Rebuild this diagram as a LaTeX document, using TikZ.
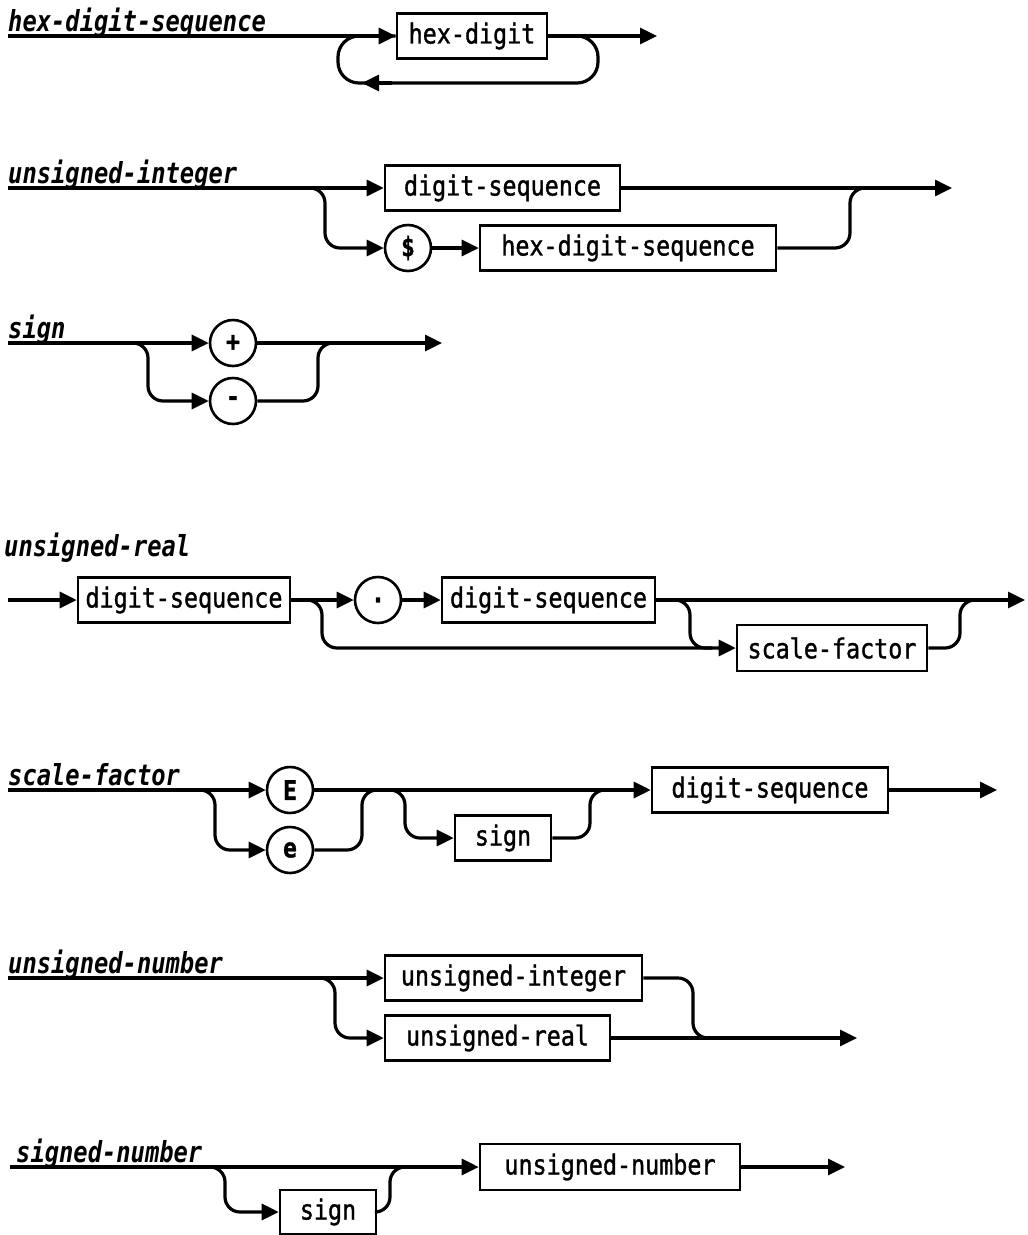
\documentclass[tikz,border=0pt]{standalone}
\usepackage{fontspec}
\setmainfont{DejaVu Sans Mono}
\newfontfamily\labfont[FakeStretch=0.85,FakeBold=1.2]{DejaVu Sans Mono}
\newfontfamily\titfont[FakeStretch=0.82]{DejaVu Sans Mono}
\usetikzlibrary{arrows.meta}
\tikzset{
  conn/.style={line width=3.2pt, rounded corners=15pt},
  tip/.style={-{Triangle[length=17pt,width=16pt]}},
  synbox/.style={draw, line width=2.6pt, rectangle, minimum height=45pt, inner sep=0pt, font=\labfont\fontsize{27.5}{27.5}\selectfont},
  term/.style={draw, line width=2.6pt, circle, minimum size=46pt, inner sep=0pt, font=\labfont\bfseries\fontsize{27}{27}\selectfont},
  title/.style={anchor=base west, inner sep=0pt, font=\titfont\bfseries\itshape\fontsize{29}{29}\selectfont}
}
\begin{document}
\begin{tikzpicture}[x=1pt,y=-1pt]
\useasboundingbox (0,0) rectangle (1028,1235);

% ---------- hex-digit-sequence ----------
\node[title] (t1) at (8,31) {hex-digit-sequence};
\coordinate (s1) at (8,36);
\coordinate (e1) at (657,36);
\node[synbox, minimum width=150pt] (hexd) at (472,36) {hex-digit};
\draw[conn,tip] (s1) -- (hexd.west);
\draw[conn,tip] (hexd.east) -- (e1);
\draw[conn,rounded corners=21pt] (hexd.east) -| (598,83) -| (338,36) -- (hexd.west);
\coordinate (l1) at (392,83);
\coordinate (l2) at (362,83);
\draw[conn,tip] (l1) -- (l2);

% ---------- unsigned-integer ----------
\node[title] (t2) at (8,183) {unsigned-integer};
\coordinate (s2) at (8,188);
\coordinate (e2) at (952,188);
\node[synbox, minimum width=235pt] (ds1) at (502.5,188) {digit-sequence};
\node[term] (dollar) at (408,248) {\$};
\node[synbox, minimum width=296pt] (hds) at (628,248) {hex-digit-sequence};
\draw[conn,tip] (s2) -- (ds1.west);
\draw[conn,tip] (ds1.east) -- (e2);
\draw[conn,tip] (300,188) -- (325,188) -- (325,248) -- (dollar.west);
\draw[conn,tip] (dollar.east) -- (hds.west);
\draw[conn] (hds.east) -- (850,248) -- (850,188) -- (875,188);

% ---------- sign ----------
\node[title] (t3) at (8,338) {sign};
\coordinate (s3) at (8,343);
\coordinate (e3) at (442,343);
\node[term] (plus) at (233,343) {+};
\node[term] (minus) at (233,401) {-};
\draw[conn,tip] (s3) -- (plus.west);
\draw[conn,tip] (plus.east) -- (e3);
\draw[conn,tip] (128,343) -- (148,343) -- (148,401) -- (minus.west);
\draw[conn] (minus.east) -- (318,401) -- (318,343) -- (338,343);

% ---------- unsigned-real ----------
\node[anchor=base west, inner sep=0pt, font=\titfont\bfseries\itshape\fontsize{29}{29}\selectfont] (t4) at (4,556) {unsigned-real};
\coordinate (s4) at (8,600);
\coordinate (e4) at (1025,600);
\node[synbox, minimum width=212pt] (ds2a) at (184,600) {digit-sequence};
\node[term] (dot) at (378,600) {.};
\node[synbox, minimum width=213pt] (ds2b) at (548.5,600) {digit-sequence};
\node[synbox, minimum width=190pt, minimum height=46pt] (sf) at (832,648) {scale-factor};
\draw[conn,tip] (s4) -- (ds2a.west);
\draw[conn,tip] (ds2a.east) -- (dot.west);
\draw[conn,tip] (dot.east) -- (ds2b.west);
\draw[conn,tip] (ds2b.east) -- (e4);
\draw[conn,tip] (ds2a.east) -- (322,600) -- (322,648) -- (sf.west);
\draw[conn] (ds2b.east) -- (690,600) -- (690,648) -- (712,648);
\draw[conn] (sf.east) -- (960,648) -- (960,600) -- (982,600);

% ---------- scale-factor ----------
\node[title] (t5) at (8,785) {scale-factor};
\coordinate (s5) at (8,790);
\coordinate (e5) at (997,790);
\node[term] (E) at (290,790) {E};
\node[term] (e) at (290,850) {e};
\node[synbox, minimum width=96pt] (sg1) at (503,838) {sign};
\node[synbox, minimum width=236pt] (ds3) at (770,790) {digit-sequence};
\draw[conn,tip] (s5) -- (E.west);
\draw[conn,tip] (E.east) -- (ds3.west);
\draw[conn,tip] (ds3.east) -- (e5);
\draw[conn,tip] (192,790) -- (215,790) -- (215,850) -- (e.west);
\draw[conn] (e.east) -- (362,850) -- (362,790) -- (385,790);
\draw[conn,tip] (380,790) -- (405,790) -- (405,838) -- (sg1.west);
\draw[conn] (sg1.east) -- (590,838) -- (590,790) -- (612,790);

% ---------- unsigned-number ----------
\node[title] (t6) at (8,973) {unsigned-number};
\coordinate (s6) at (8,978);
\coordinate (e6) at (857,1038);
\node[synbox, minimum width=257pt] (ui) at (513.5,978) {unsigned-integer};
\node[synbox, minimum width=225pt] (ur) at (497.5,1038) {unsigned-real};
\draw[conn,tip] (s6) -- (ui.west);
\draw[conn,tip] (312,978) -- (335,978) -- (335,1038) -- (ur.west);
\draw[conn,tip] (ur.east) -- (e6);
\draw[conn] (ui.east) -- (693,978) -- (693,1038) -- (716,1038);

% ---------- signed-number ----------
\node[title] (t7) at (16,1162) {signed-number};
\coordinate (s7) at (10,1167);
\coordinate (e7) at (845,1167);
\node[synbox, minimum width=260pt, minimum height=46pt] (un) at (610,1167) {unsigned-number};
\node[synbox, minimum width=96pt, minimum height=44pt] (sg2) at (328,1212) {sign};
\draw[conn,tip] (s7) -- (un.west);
\draw[conn,tip] (un.east) -- (e7);
\draw[conn,tip] (200,1167) -- (225,1167) -- (225,1212) -- (sg2.west);
\draw[conn] (sg2.east) -- (390,1212) -- (390,1167) -- (412,1167);
\end{tikzpicture}
\end{document}
